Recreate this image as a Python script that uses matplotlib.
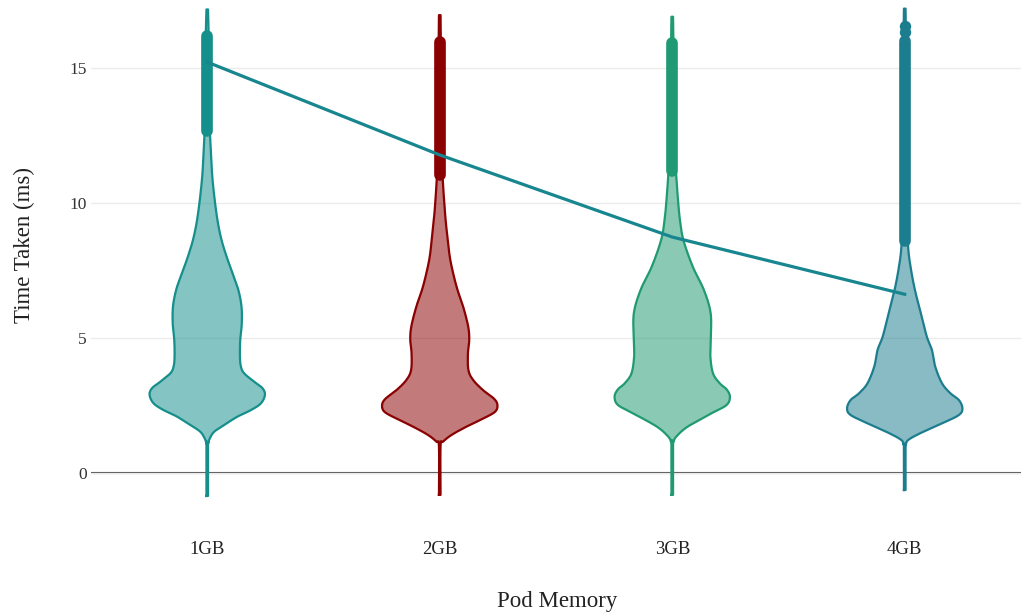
import numpy as np
import matplotlib
matplotlib.use("Agg")
import matplotlib.pyplot as plt

# ---------------- data ----------------
categories = ["1GB", "2GB", "3GB", "4GB"]

# violin profiles: value levels and relative density (half-width)
v1_y = [-0.85, 1.0, 1.1, 1.28, 1.53, 1.78, 2.09, 2.33, 2.58, 2.89, 3.14, 3.38, 3.69, 3.94, 4.31, 4.93, 5.5, 6.16, 6.8, 7.4, 8.0, 8.63, 9.3, 10.1, 11.0, 12.0, 12.8, 14.0, 16.0, 17.17]
v1_d = [0.8, 0.8, 1.0, 2.5, 7, 17, 30.3, 43.7, 53.7, 57.7, 55.3, 47, 37, 33.7, 32.7, 33, 34.5, 34.3, 31, 25.3, 19.5, 14.3, 10.5, 7.5, 5, 3.5, 2.5, 2, 1.6, 0.8]

v2_y = [-0.81, 1.0, 1.16, 1.41, 1.72, 2.02, 2.27, 2.52, 2.75, 3.07, 3.44, 3.81, 4.43, 4.93, 5.42, 6.16, 6.8, 7.4, 8.0, 8.63, 9.3, 10.0, 11.0, 12.0, 14.0, 16.96]
v2_d = [0.8, 0.8, 3.3, 11.7, 26.7, 43.3, 55, 57.3, 54, 43, 33.3, 28.5, 28, 29.3, 28.3, 23.3, 17.5, 13.3, 10, 8, 6, 4.5, 2.8, 2, 1.6, 0.8]

v3_y = [-0.81, 1.05, 1.15, 1.35, 1.72, 2.21, 2.52, 2.83, 3.1, 3.32, 3.69, 4.31, 4.93, 5.91, 6.78, 7.64, 8.63, 9.4, 10.2, 11.0, 12.0, 14.0, 16.9]
v3_d = [0.8, 0.8, 1.2, 4, 15.3, 38.7, 53.7, 57, 53.7, 47, 40.3, 37.7, 38, 38, 31.3, 20.3, 11, 7.5, 5.5, 4, 2.5, 1.8, 0.8]

v4_y = [-0.63, 0.95, 1.05, 1.22, 1.47, 1.84, 2.15, 2.4, 2.7, 2.95, 3.32, 3.94, 4.56, 5.05, 5.79, 6.78, 7.64, 8.38, 9.5, 12.0, 15.0, 17.2]
v4_d = [0.8, 0.8, 1.2, 3.3, 15, 36.7, 53.3, 56.7, 53.3, 45, 36.7, 30, 26.7, 21.7, 16.7, 10, 5.7, 3.3, 2.5, 2, 1.6, 0.8]

# outlier point columns (lowest and highest outlier)
outlier_lo = [12.67, 11.05, 11.2, 8.6]
outlier_hi = [16.18, 15.95, 15.93, 16.0]
extra_outliers_4gb = [16.35, 16.55]

# line through the violins (mean time per memory size)
line_values = [15.22, 11.78, 8.74, 6.62]

edge_colors = ["#148f8c", "#8b0000", "#1f9a72", "#1c7d8e"]
line_color = "#17868f"

# ---------------- helpers ----------------
def catmull(px, py, n=24):
    pts = np.column_stack([px, py]).astype(float)
    pts = np.vstack([pts[0], pts, pts[-1]])
    out = []
    t = np.linspace(0, 1, n, endpoint=False)[:, None]
    for i in range(1, len(pts) - 2):
        p0, p1, p2, p3 = pts[i - 1], pts[i], pts[i + 1], pts[i + 2]
        out.append(0.5 * ((2 * p1) + (-p0 + p2) * t + (2 * p0 - 5 * p1 + 4 * p2 - p3) * t ** 2
                          + (-p0 + 3 * p1 - 3 * p2 + p3) * t ** 3))
    out.append(pts[-2][None])
    return np.vstack(out)

plt.rcParams["font.family"] = ["Liberation Serif", "DejaVu Serif"]

fig = plt.figure(figsize=(10.32, 6.16), dpi=100)
W, H = 1032, 616
ax = fig.add_axes([91 / W, 106 / H, 930 / W, 510 / H])
ax.set_xlim(-0.5, 3.5)
ax.set_ylim(-1.37, 17.52)

for s in ax.spines.values():
    s.set_visible(False)

ax.set_yticks([0, 5, 10, 15])
ax.grid(axis="y", color="#ebebeb", linewidth=1.0, zorder=0)
ax.grid(axis="x", visible=False)
ax.axhline(0, color="#444444", linewidth=1.5, zorder=1)

profiles = [(v1_y, v1_d), (v2_y, v2_d), (v3_y, v3_d), (v4_y, v4_d)]
half_max = 0.248
for i, (ys, ds) in enumerate(profiles):
    ds = np.asarray(ds, float)
    curve = catmull(ys, ds / ds.max() * half_max)
    yy, hw = curve[:, 0], np.clip(curve[:, 1], 0.002, None)
    c = edge_colors[i]
    ax.fill_betweenx(yy, i - hw, i + hw, facecolor=c, alpha=0.52, edgecolor="none", zorder=2)
    xs = np.concatenate([i - hw, (i + hw)[::-1], [i - hw[0]]])
    yv = np.concatenate([yy, yy[::-1], [yy[0]]])
    ax.plot(xs, yv, color=c, linewidth=1.6, zorder=3, solid_joinstyle="round")
    # outlier column
    ax.plot([i, i], [outlier_lo[i], outlier_hi[i]], color=c, linewidth=8.4,
            solid_capstyle="round", zorder=4)

ax.plot([3] * len(extra_outliers_4gb), extra_outliers_4gb, "o", color=edge_colors[3],
        markersize=8.2, markeredgewidth=0, zorder=4)

ax.plot(range(len(categories)), line_values, color=line_color, linewidth=2.3, zorder=5)

ax.set_xticks(range(len(categories)))
ax.set_xticklabels(categories, fontsize=13.5, color="#222222")
ax.tick_params(axis="x", length=0, pad=22)
ax.tick_params(axis="y", length=0, pad=3, labelsize=12.5, labelcolor="#333333")

fig.text(557 / W, 1 - 601 / H, "Pod Memory", ha="center", va="center", fontsize=16.5, color="#222222")
fig.text(24 / W, 1 - 245 / H, "Time Taken (ms)", ha="center", va="center", rotation=90,
         fontsize=16.5, color="#222222")

fig.savefig("out.png", dpi=100)
